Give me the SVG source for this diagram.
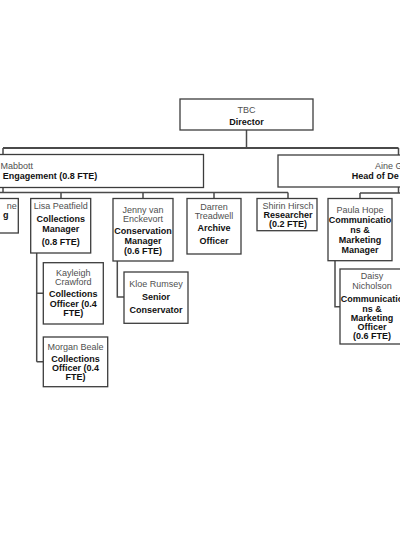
<svg xmlns="http://www.w3.org/2000/svg" width="400" height="535" viewBox="0 0 400 535">
<style>
.box{fill:#fff;stroke:#3c3c3c;stroke-width:1.3}
.n{font-family:"Liberation Sans",Arial,sans-serif;font-size:9px;fill:#505050}
.b{font-family:"Liberation Sans",Arial,sans-serif;font-size:9px;font-weight:bold;fill:#111}
.m{text-anchor:middle}
.c{fill:none;stroke:#4a4a4a;stroke-width:1.5}
</style>
<rect width="400" height="535" fill="#fff"/>
<g id="connectors">
<path class="c" d="M246.5 130V148"/>
<path class="c" style="stroke-width:2" d="M3 148H398.5"/>
<path class="c" d="M3 148V154.5M398.5 148V155"/>
<path class="c" d="M3 187.5V192.5M0 192.5H288M61 192.5V198.5M143 192.5V198.5M214 192.5V198.5M288 192.5V198.5"/>
<path class="c" d="M398.5 187V193M360 193H400M360 193V198.5"/>
<path class="c" d="M36.7 253V361.7M36.7 293.3H43.3M36.7 361.7H43.3"/>
<path class="c" d="M117.3 261V297H124"/>
<path class="c" d="M335 260.7V306.7H340"/>
</g>
<g id="director">
<rect class="box" x="180" y="99" width="133" height="31"/>
<text class="n m" x="246.5" y="112.5">TBC</text>
<text class="b m" x="246.5" y="124.5">Director</text>
</g>
<g id="head-engagement">
<rect class="box" x="-200" y="154.5" width="403.5" height="33"/>
<text class="n" x="0.5" y="169">Mabbott</text>
<text class="b" x="2.7" y="179">Engagement (0.8 FTE)</text>
</g>
<g id="head-right">
<rect class="box" x="278" y="155" width="242" height="32"/>
<text class="n" x="375" y="169">Aine G</text>
<text class="b" x="351.7" y="179">Head of De</text>
</g>
<g id="partial-left">
<rect class="box" x="-50" y="198.5" width="68.3" height="34.5"/>
<text class="n" x="16.7" y="208.5" text-anchor="end">ne</text>
<text class="b" x="8.5" y="217.5" text-anchor="end">g</text>
</g>
<g id="lisa">
<rect class="box" x="30.7" y="198.5" width="60" height="54.5"/>
<text class="n m" x="60.7" y="208.5">Lisa Peatfield</text>
<text class="b m" x="60.7" y="221.5">Collections</text>
<text class="b m" x="60.7" y="231.5">Manager</text>
<text class="b m" x="60.7" y="244.5">(0.8 FTE)</text>
</g>
<g id="jenny">
<rect class="box" x="113" y="198.5" width="60" height="62.5"/>
<text class="n m" x="143" y="213">Jenny van</text>
<text class="n m" x="143" y="222">Enckevort</text>
<text class="b m" x="143" y="233.5">Conservation</text>
<text class="b m" x="143" y="243.5">Manager</text>
<text class="b m" x="143" y="254">(0.6 FTE)</text>
</g>
<g id="darren">
<rect class="box" x="187" y="198.5" width="54" height="55.5"/>
<text class="n m" x="214" y="210">Darren</text>
<text class="n m" x="214" y="219">Treadwell</text>
<text class="b m" x="214" y="231">Archive</text>
<text class="b m" x="214" y="244">Officer</text>
</g>
<g id="shirin">
<rect class="box" x="257" y="198.5" width="60" height="32.2"/>
<text class="n m" x="288" y="208.5">Shirin Hirsch</text>
<text class="b m" x="288" y="217.5">Researcher</text>
<text class="b m" x="288" y="227.3">(0.2 FTE)</text>
</g>
<g id="paula">
<rect class="box" x="328" y="198.5" width="64" height="62.2"/>
<text class="n m" x="360" y="212.7">Paula Hope</text>
<text class="b m" x="360" y="222.7">Communicatio</text>
<text class="b m" x="360" y="233">ns &amp;</text>
<text class="b m" x="360" y="243">Marketing</text>
<text class="b m" x="360" y="253.3">Manager</text>
</g>
<g id="kayleigh">
<rect class="box" x="43.3" y="262.7" width="60" height="61.3"/>
<text class="n m" x="73.3" y="276">Kayleigh</text>
<text class="n m" x="73.3" y="285">Crawford</text>
<text class="b m" x="73.3" y="296.7">Collections</text>
<text class="b m" x="73.3" y="306.7">Officer (0.4</text>
<text class="b m" x="73.3" y="316">FTE)</text>
</g>
<g id="morgan">
<rect class="box" x="43.3" y="337" width="64.4" height="49.7"/>
<text class="n m" x="75.5" y="350">Morgan  Beale</text>
<text class="b m" x="75.5" y="361.7">Collections</text>
<text class="b m" x="75.5" y="370.7">Officer (0.4</text>
<text class="b m" x="75.5" y="380">FTE)</text>
</g>
<g id="kloe">
<rect class="box" x="124" y="272" width="64" height="51.3"/>
<text class="n m" x="156" y="287.3">Kloe Rumsey</text>
<text class="b m" x="156" y="300">Senior</text>
<text class="b m" x="156" y="313.3">Conservator</text>
</g>
<g id="daisy">
<rect class="box" x="340" y="269" width="64" height="75"/>
<text class="n m" x="372" y="279.3">Daisy</text>
<text class="n m" x="372" y="288.5">Nicholson</text>
<text class="b m" x="372" y="301.7">Communicatio</text>
<text class="b m" x="372" y="311.7">ns &amp;</text>
<text class="b m" x="372" y="320.7">Marketing</text>
<text class="b m" x="372" y="330">Officer</text>
<text class="b m" x="372" y="339.3">(0.6 FTE)</text>
</g>
</svg>
